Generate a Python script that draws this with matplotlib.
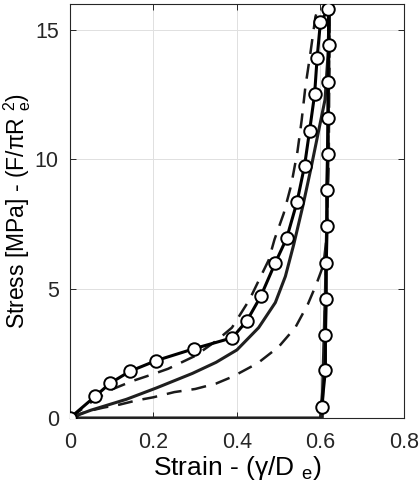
import matplotlib
matplotlib.use('Agg')
import matplotlib.pyplot as plt

plt.rcParams['font.family'] = ['Liberation Sans', 'DejaVu Sans']
plt.rcParams['mathtext.fontset'] = 'custom'
plt.rcParams['mathtext.rm'] = 'Liberation Sans'
plt.rcParams['mathtext.it'] = 'Liberation Sans:italic'

# experiment (circles): loading then unloading
exp_strain = [0, 0.06, 0.096, 0.143, 0.207, 0.298, 0.389, 0.424, 0.457, 0.492, 0.519,
              0.544, 0.562, 0.574, 0.586, 0.592, 0.600, 0.619,
              0.620, 0.618, 0.618, 0.617, 0.615, 0.616, 0.614, 0.614, 0.612, 0.612, 0.603]
exp_stress = [0, 0.83, 1.34, 1.80, 2.22, 2.68, 3.10, 3.76, 4.70, 6.00, 6.94,
              8.35, 9.75, 11.1, 12.5, 13.9, 15.3, 15.8,
              14.4, 13.0, 11.6, 10.2, 8.8, 7.4, 6.0, 4.6, 3.2, 1.85, 0.43]

# model (solid)
mod_strain = [0, 0.05, 0.135, 0.207, 0.293, 0.35, 0.40, 0.452, 0.492, 0.516, 0.536,
              0.558, 0.578, 0.597, 0.611, 0.618, 0.621, 0.618, 0.612, 0.605, 0.600, 0.0]
mod_stress = [0, 0.30, 0.72, 1.16, 1.72, 2.15, 2.63, 3.49, 4.46, 5.47, 6.70,
              8.20, 9.70, 11.2, 12.3, 14.0, 15.8, 10.0, 5.0, 1.0, 0.0, 0.0]

# upper bound (dashed)
up_strain = [0, 0.05, 0.10, 0.15, 0.20, 0.235, 0.30, 0.352, 0.388, 0.43, 0.457, 0.476,
             0.49, 0.512, 0.53, 0.545, 0.555, 0.564, 0.576, 0.588, 0.598, 0.604]
up_stress = [0, 0.60, 1.10, 1.43, 1.70, 1.90, 2.40, 3.00, 3.49, 4.57, 5.47, 6.10,
             6.90, 7.90, 9.00, 10.3, 11.5, 12.8, 14.1, 15.5, 16.0, 16.6]

# lower bound (dashed)
lo_strain = [0, 0.04, 0.08, 0.12, 0.16, 0.20, 0.25, 0.30, 0.35, 0.39, 0.45, 0.50,
             0.54, 0.57, 0.59, 0.607, 0.615, 0.620, 0.622, 0.618, 0.612, 0.605]
lo_stress = [0, 0.25, 0.40, 0.52, 0.68, 0.80, 1.00, 1.12, 1.33, 1.60, 2.12, 2.75,
             3.50, 4.40, 5.16, 5.90, 7.00, 10.0, 15.8, 10.0, 5.0, 0.0]

fig = plt.figure(figsize=(4.19, 4.90), dpi=100)
ax = fig.add_axes([0.167, 0.147, 0.797, 0.845])

ax.plot(lo_strain, lo_stress, color='0.1', lw=1.8, dashes=(6, 4), zorder=2)
ax.plot(up_strain, up_stress, color='0.1', lw=1.8, dashes=(6, 4), zorder=2)
ax.plot(mod_strain, mod_stress, color='0.12', lw=2.2, zorder=3)
ax.plot(exp_strain, exp_stress, color='k', lw=2.2, marker='o', ms=9,
        mfc='white', mec='k', mew=1.4, zorder=4)

ax.set_xlim(0, 0.8)
ax.set_ylim(0, 16)
ax.set_xticks([0, 0.2, 0.4, 0.6, 0.8])
ax.set_xticklabels(['0', '0.2', '0.4', '0.6', '0.8'])
ax.set_yticks([0, 5, 10, 15])
ax.grid(True, color='0.88', lw=0.7)
ax.set_axisbelow(True)
ax.tick_params(direction='in', top=True, right=True, length=4, width=0.7,
               labelsize=15.5, colors='0.15')
ax.tick_params(axis='x', pad=10)
ax.tick_params(axis='y', pad=8)
for s in ax.spines.values():
    s.set_color('0.15')
    s.set_linewidth(0.8)

ax.set_xlabel('Strain - (γ/D $_{\\rm e}$)', fontsize=19, labelpad=1)
ax.set_ylabel('Stress [MPa] - (F/πR $_{\\rm e}^{2}$)', fontsize=16.5, labelpad=1)

plt.savefig('out.png', dpi=100)
